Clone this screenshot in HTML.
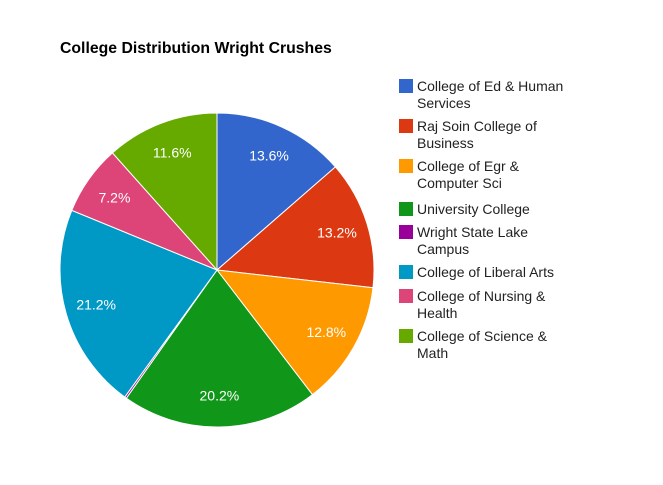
<!DOCTYPE html>
<html><head><meta charset="utf-8"><style>
body{margin:0;background:#fff;}
svg{display:block;font-family:"Liberation Sans",Arial,sans-serif;}
</style></head><body>
<svg id="chart" width="663" height="485">
<rect width="663" height="485" fill="#fff"/>
<text x="60" y="53" font-size="15.8" font-weight="bold" fill="#000">College Distribution Wright Crushes</text>
<g id="slices"></g><g id="labels"></g><g id="legend"></g>
</svg>
<script>
const categories = [["College of Ed & Human","Services"],["Raj Soin College of","Business"],["College of Egr &","Computer Sci"],["University College"],["Wright State Lake","Campus"],["College of Liberal Arts"],["College of Nursing &","Health"],["College of Science &","Math"]];
const values = [13.6,13.2,12.8,20.2,0.2,21.2,7.2,11.6];
const colors = ["#3366cc","#dc3912","#ff9900","#109618","#990099","#0099c6","#dd4477","#66aa00"];
const ns="http://www.w3.org/2000/svg";
const cx=217, cy=270, r=157;
const total=values.reduce((a,b)=>a+b,0);
const sg=document.getElementById('slices'), lg=document.getElementById('labels'), leg=document.getElementById('legend');
function pt(a,rr){return [cx+rr*Math.sin(a), cy-rr*Math.cos(a)];}
let ang=0;
values.forEach((v,i)=>{
  const a0=ang, a1=ang+v/total*2*Math.PI; ang=a1;
  const p0=pt(a0,r), p1=pt(a1,r);
  const large=(a1-a0)>Math.PI?1:0;
  const path=document.createElementNS(ns,'path');
  path.setAttribute('d',`M${cx},${cy}L${p0[0]},${p0[1]}A${r},${r} 0 ${large} 1 ${p1[0]},${p1[1]}Z`);
  path.setAttribute('fill',colors[i]);
  path.setAttribute('stroke','#fff');
  path.setAttribute('stroke-width','1');
  
  
  sg.appendChild(path);
  const pct=v/total*100;
  if(pct>=3){
    const m=pt((a0+a1)/2,r*0.8);
    const t=document.createElementNS(ns,'text');
    t.setAttribute('x',m[0]);t.setAttribute('y',m[1]+5);
    t.setAttribute('text-anchor','middle');t.setAttribute('font-size','14');t.setAttribute('fill','#fff');
    t.textContent=v.toFixed(1)+'%';
    
    
    lg.appendChild(t);
  }
});
const rowY=[86,126,166,209,232,272,296,336];
categories.forEach((c,i)=>{
  const g=document.createElementNS(ns,'g');
  
  
  const s=document.createElementNS(ns,'rect');
  s.setAttribute('x',399);s.setAttribute('y',rowY[i]-7);s.setAttribute('width',14);s.setAttribute('height',14);
  s.setAttribute('fill',colors[i]);
  g.appendChild(s);
  c.forEach((line,j)=>{
    const t=document.createElementNS(ns,'text');
    t.setAttribute('x',417);t.setAttribute('y',rowY[i]+5+j*17);
    t.setAttribute('font-size','14');t.setAttribute('fill','#222');
    t.textContent=line;g.appendChild(t);
  });
  leg.appendChild(g);
});
</script>
</body></html>
